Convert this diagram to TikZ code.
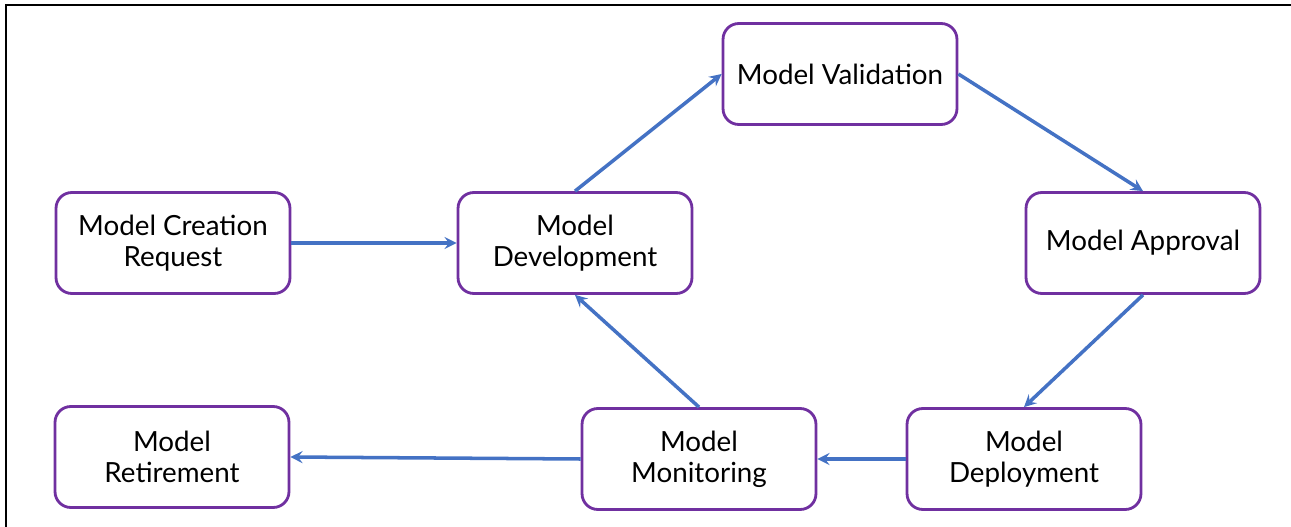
\documentclass[tikz,border=0pt]{standalone}
\usepackage{fontspec}
\setmainfont{Lato}
\usepackage{tikz}
\usetikzlibrary{arrows, shapes, positioning}
\definecolor{boxpurple}{HTML}{7030A0}
\definecolor{flowblue}{HTML}{4472C4}
\tikzstyle{stage} = [rectangle, rounded corners=9pt, draw=boxpurple, line width=1.6pt, fill=white,
                     minimum width=4.68cm, minimum height=2.02cm, align=center,
                     font=\fontsize{15.8}{17.5}\selectfont]
\tikzstyle{flow} = [draw=flowblue, line width=2pt, -stealth]
\tikzstyle{frame} = [line width=1pt]

\begin{document}
\begin{tikzpicture}[x=0.02cm, y=-0.02cm]
				\useasboundingbox (0, 0) rectangle (1291, 527);

				% frame
				\coordinate (FrameTop) at (1291, 5);
				\coordinate (FrameCorner) at (6, 5);
				\coordinate (FrameBottom) at (6, 527);
				\draw [frame] (FrameTop) -- (FrameCorner) -- (FrameBottom);

				% stages
				\node (Request) [stage] at (173, 243) {Model Creation\\Request};
				\node (Development) [stage] at (575, 243) {Model\\Development};
				\node (Validation) [stage] at (840, 74) {Model Validation};
				\node (Approval) [stage] at (1143, 243) {Model Approval};
				\node (Deployment) [stage] at (1024, 459) {Model\\Deployment};
				\node (Monitoring) [stage] at (699, 459) {Model\\Monitoring};
				\node (Retirement) [stage] at (172, 457) {Model\\Retirement};

				% lifecycle
				\draw [flow] (Request) -- (Development);
				\draw [flow] (Development.north) -- (Validation.west);
				\draw [flow] (Validation.east) -- (Approval.north);
				\draw [flow] (Approval.south) -- (Deployment.north);
				\draw [flow] (Deployment.west) -- (Monitoring.east);
				\draw [flow] (Monitoring.north) -- (Development.south);
				\draw [flow] (Monitoring.west) -- (Retirement.east);
			\end{tikzpicture}
\end{document}
